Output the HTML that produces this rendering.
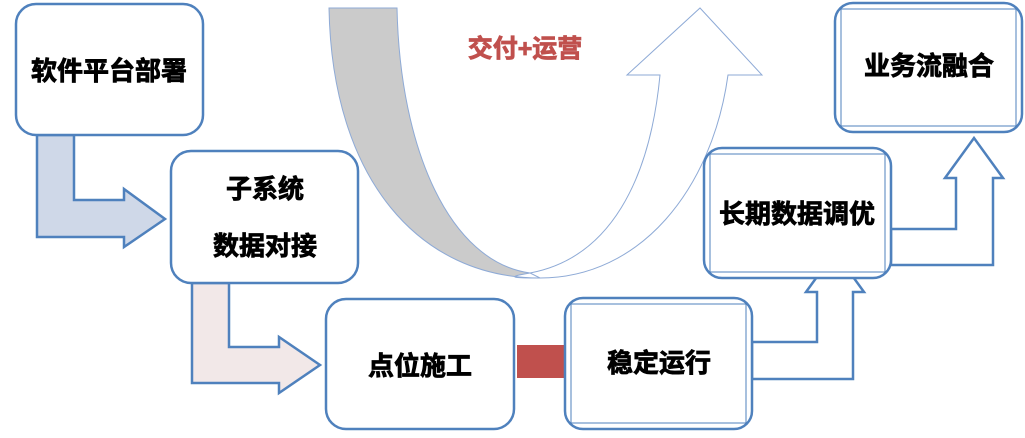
<!DOCTYPE html>
<html><head><meta charset="utf-8"><style>
body{margin:0;background:#fff;}
svg text{font-family:"Liberation Sans","Noto Sans CJK SC",sans-serif;font-weight:bold;stroke:currentColor;stroke-width:0.8;}
</style></head><body>
<svg width="1025" height="433" viewBox="0 0 1025 433" xmlns="http://www.w3.org/2000/svg">
<path d="M329,8 L397,8 C400,150 450,262 530,273 C500,278 520,278 540,278 C420,278 332,180 329,8 Z" fill="#cbcbcb" stroke="#8eaad6" stroke-width="1"/>
<path d="M530,273 C610,258 650,180 660,75 L627,75 L700,8 L762,75 L728,75 C712,190 640,278 540,278 Z" fill="#fff" stroke="#8eaad6" stroke-width="1"/>
<text x="525" y="57" font-size="25" fill="#c0504d" color="#c0504d" text-anchor="middle">交付+运营</text>
<path d="M37,135 L74,135 L74,200 L124,200 L124,189 L165,219 L124,247 L124,237 L37,237 Z" fill="#cfd8e8" stroke="#4f81bd" stroke-width="2.5"/>
<path d="M192,283 L229,283 L229,347 L279,347 L279,337 L320,365 L279,393 L279,383 L192,383 Z" fill="#f2e8e8" stroke="#4f81bd" stroke-width="2.5"/>
<path d="M752,342 L817,342 L817,292 L806,292 L835,252 L864,292 L853,292 L853,379 L752,379 Z" fill="#fff" stroke="#4f81bd" stroke-width="2.5"/>
<path d="M891,229 L956,229 L956,178 L945,178 L974,138 L1003,178 L993,178 L993,265 L891,265 Z" fill="#fff" stroke="#4f81bd" stroke-width="2.5"/>
<rect x="517" y="345" width="48" height="33" fill="#c0504d"/>
<rect x="16" y="4" width="187" height="131" rx="20" fill="#fff" stroke="#4f81bd" stroke-width="2.5"/>
<text x="109" y="80" font-size="26" text-anchor="middle">软件平台部署</text>
<rect x="171" y="151" width="187" height="132" rx="20" fill="#fff" stroke="#4f81bd" stroke-width="2.5"/>
<text x="265" y="198" font-size="26" text-anchor="middle">子系统</text>
<text x="265" y="255" font-size="26" text-anchor="middle">数据对接</text>
<rect x="326" y="299" width="188" height="130" rx="20" fill="#fff" stroke="#4f81bd" stroke-width="2.5"/>
<text x="420" y="375" font-size="26" text-anchor="middle">点位施工</text>
<rect x="565" y="298" width="187" height="131" rx="18" fill="#fff" stroke="#4f81bd" stroke-width="2.5"/>
<rect x="571" y="304" width="175" height="119" fill="none" stroke="#4f81bd" stroke-width="1"/>
<text x="659" y="372" font-size="26" text-anchor="middle">稳定运行</text>
<rect x="704" y="148" width="187" height="130" rx="18" fill="#fff" stroke="#4f81bd" stroke-width="2.5"/>
<rect x="710" y="154" width="175" height="118" fill="none" stroke="#4f81bd" stroke-width="1"/>
<text x="797" y="223" font-size="26" text-anchor="middle">长期数据调优</text>
<rect x="835" y="3" width="187" height="129" rx="18" fill="#fff" stroke="#4f81bd" stroke-width="2.5"/>
<rect x="841" y="9" width="175" height="117" fill="none" stroke="#4f81bd" stroke-width="1"/>
<text x="929" y="75" font-size="26" text-anchor="middle">业务流融合</text>
</svg>
</body></html>
